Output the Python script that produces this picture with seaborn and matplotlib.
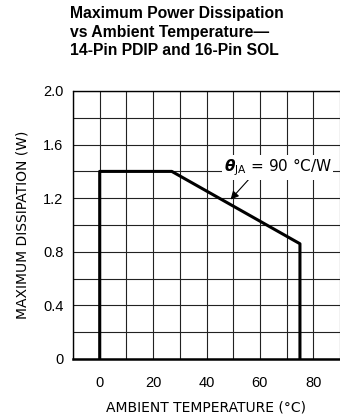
import pandas as pd
import numpy as np
import matplotlib
matplotlib.use("Agg")
import matplotlib.pyplot as plt
import seaborn as sns

# Derating curve
temp_c = [0, 0, 27, 75, 75]
power_w = [0, 1.4, 1.4, 0.86, 0]

x_ticks = [0, 20, 40, 60, 80]
y_ticks = [0, 0.4, 0.8, 1.2, 1.6, 2.0]
y_tick_labels = ["0", "0.4", "0.8", "1.2", "1.6", "2.0"]

title_lines = ["Maximum Power Dissipation",
               "vs Ambient Temperature\u2014",
               "14-Pin PDIP and 16-Pin SOL"]

sns.set_style("white")
plt.rcParams['font.family'] = ['DejaVu Sans']
plt.rcParams['text.color'] = 'black'
plt.rcParams['axes.labelcolor'] = 'black'
plt.rcParams['xtick.color'] = 'black'
plt.rcParams['ytick.color'] = 'black'

df = pd.DataFrame({"temp": temp_c, "power": power_w})

fig = plt.figure(figsize=(3.4, 4.17), dpi=100)
ax = fig.add_axes([73 / 340, 1 - 359 / 417, 1 - 73 / 340, (359 - 91) / 417])

sns.lineplot(data=df, x="temp", y="power", sort=False, estimator=None,
             color="black", linewidth=2.2, ax=ax)

ax.set_xlim(-10, 90)
ax.set_ylim(0, 2.0)
ax.set_xticks(x_ticks)
ax.set_xticklabels([str(t) for t in x_ticks])
ax.set_yticks(y_ticks)
ax.set_yticklabels(y_tick_labels)
# Grid every 10 degC / 0.2 W
ax.set_xticks(np.arange(-10, 91, 10), minor=True)
ax.set_yticks(np.arange(0, 2.01, 0.2), minor=True)
ax.grid(which="both", color="#222222", linewidth=0.8)
ax.set_axisbelow(True)

ax.tick_params(axis="both", which="both", length=0, labelsize=10.5)
ax.tick_params(axis="x", pad=12)
ax.tick_params(axis="y", pad=7)
for lab in ax.get_xticklabels() + ax.get_yticklabels():
    lab.set_family("Liberation Sans")

for side in ["top", "right"]:
    ax.spines[side].set_visible(False)
ax.spines["left"].set_color("black")
ax.spines["left"].set_linewidth(1.0)
ax.spines["bottom"].set_color("black")
ax.spines["bottom"].set_linewidth(1.8)
ax.axhline(2.0, color="black", linewidth=1.0, clip_on=False)

ax.set_xlabel("AMBIENT TEMPERATURE (\u00b0C)", fontsize=10, labelpad=8)
ax.set_ylabel("MAXIMUM DISSIPATION (W)", fontsize=10, labelpad=10)

# theta_JA callout
ax.annotate("$\\boldsymbol{\\theta}_{\\rm JA}$ = 90 \u00b0C/W", xy=(49, 1.19), xytext=(46.5, 1.43),
            fontsize=11, ha="left", va="center",
            bbox=dict(fc="white", ec="none", pad=1),
            arrowprops=dict(arrowstyle="-|>", color="black", lw=0.8,
                            shrinkA=0, shrinkB=0, mutation_scale=12,
                            relpos=(0.24, 0.0)))

fig.text(70 / 340, 1 - 6 / 417, "\n".join(title_lines), ha="left", va="top",
         fontsize=11.3, fontweight="bold", family="Liberation Sans", linespacing=1.3)

fig.savefig("out.png", dpi=100)
